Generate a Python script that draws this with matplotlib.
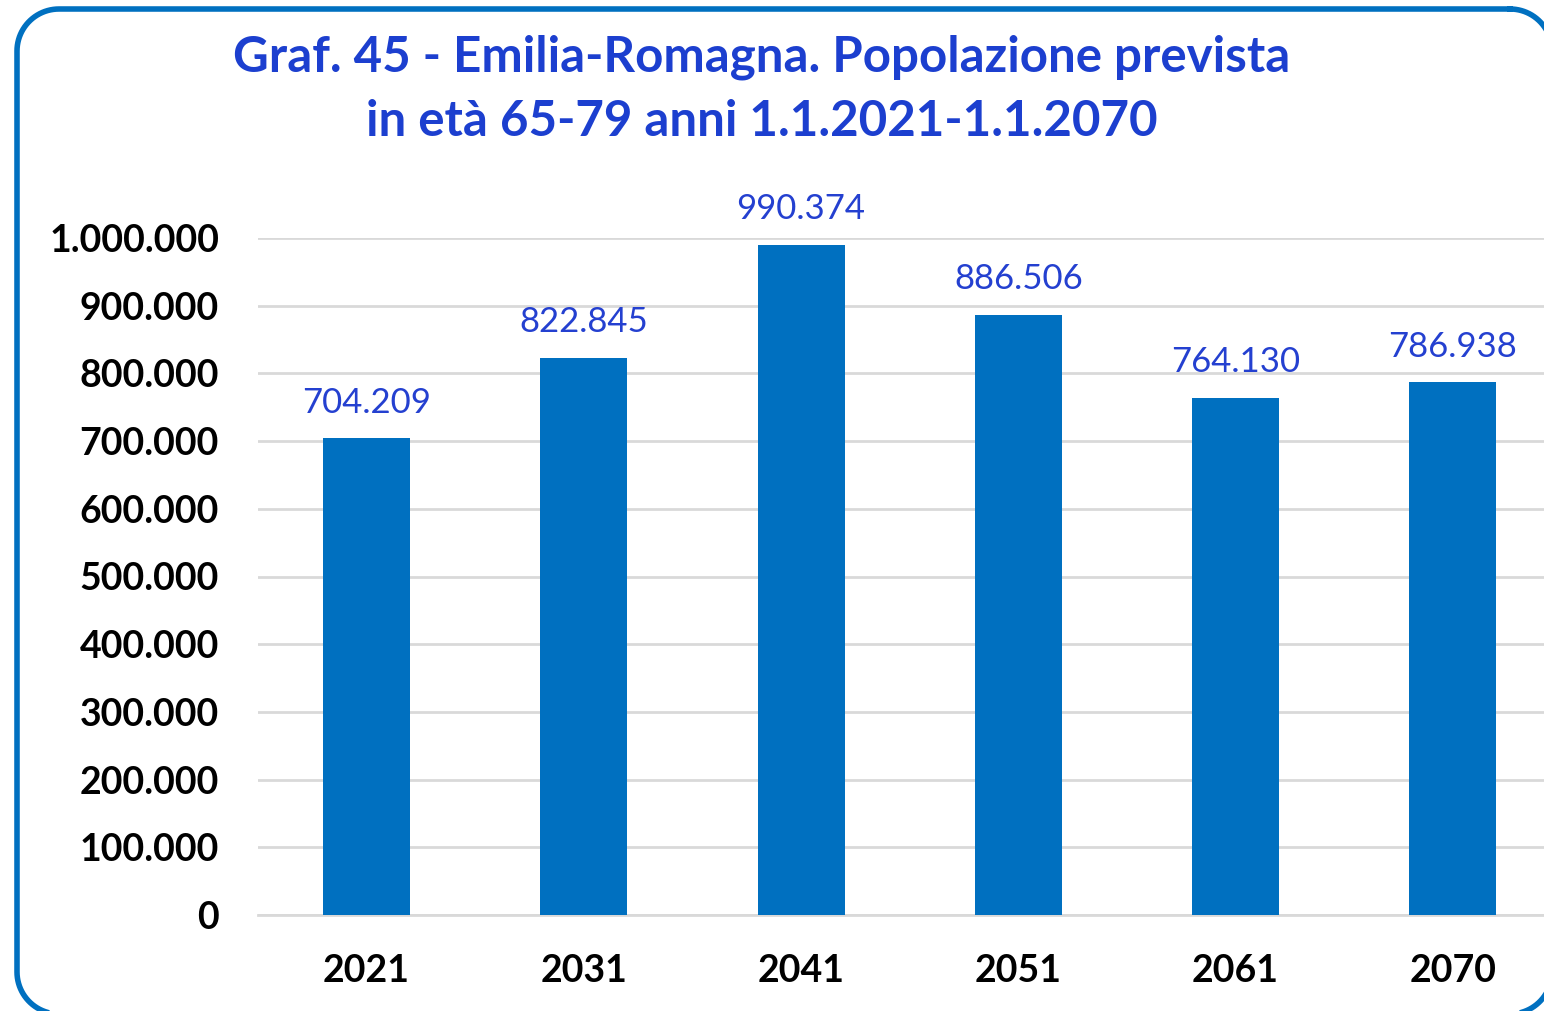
import matplotlib
matplotlib.use("Agg")
import matplotlib.pyplot as plt
import numpy as np

years = ["2021", "2031", "2041", "2051", "2061", "2070"]
popolazione = [704209, 822845, 990374, 886506, 764130, 786938]
y_ticks = [0, 100000, 200000, 300000, 400000, 500000,
           600000, 700000, 800000, 900000, 1000000]

BAR = "#0070C0"
TITLE_BLUE = "#1C3FCF"
LABEL_BLUE = "#2440D0"
GRID = "#D9D9D9"


def it_fmt(v):
    return f"{v:,}".replace(",", ".")


def rounded_outline(x0, y0, x1, y1, r, n=24):
    """Closed polyline of a rounded rectangle (y grows downward)."""
    xs, ys = [], []
    corners = [(x1 - r, y0 + r, -90, 0), (x1 - r, y1 - r, 0, 90),
               (x0 + r, y1 - r, 90, 180), (x0 + r, y0 + r, 180, 270)]
    for cx, cy, a0, a1 in corners:
        t = np.radians(np.linspace(a0, a1, n))
        xs.extend(cx + r * np.cos(t))
        ys.extend(cy + r * np.sin(t))
    xs.append(xs[0]); ys.append(ys[0])
    return xs, ys


plt.rcParams["font.family"] = ["Lato", "DejaVu Sans"]

W, H = 1544, 1011
fig = plt.figure(figsize=(W / 100, H / 100), dpi=100)
fig.patch.set_facecolor("white")

# background axes in pixel units for the rounded frame (cut off right/bottom)
bg = fig.add_axes([0, 0, 1, 1], zorder=-1)
bg.set_xlim(0, W)
bg.set_ylim(H, 0)
bg.axis("off")
fx, fy = rounded_outline(17, 9, 1552, 1014, 42)
bg.plot(fx, fy, color="#0070C0", linewidth=4, solid_joinstyle="round")

fig.text(762 / W, 1 - 57 / H, "Graf. 45 - Emilia-Romagna. Popolazione prevista",
         ha="center", va="center", fontsize=35.5, fontweight="bold", color=TITLE_BLUE)
fig.text(762 / W, 1 - 122 / H, "in età 65-79 anni 1.1.2021-1.1.2070",
         ha="center", va="center", fontsize=35.5, fontweight="bold", color=TITLE_BLUE)

ax = fig.add_axes([258 / W, 96 / H, 1 - 258 / W, 677 / H])
ax.patch.set_alpha(0)
x = list(range(len(years)))
bars = ax.bar(x, popolazione, width=0.4, color=BAR, zorder=3)

ax.set_xlim(-0.5, 5.42)
ax.set_ylim(0, 1000000)
ax.set_yticks(y_ticks)
ax.set_yticklabels([it_fmt(v) for v in y_ticks])
ax.set_xticks(x)
ax.set_xticklabels(years)
ax.grid(axis="y", color=GRID, linewidth=2, zorder=0)
for s in ("top", "right", "left"):
    ax.spines[s].set_visible(False)
ax.spines["bottom"].set_color(GRID)
ax.spines["bottom"].set_linewidth(2)
ax.tick_params(axis="both", length=0, labelsize=27, labelcolor="black")
ax.tick_params(axis="y", pad=28)
ax.tick_params(axis="x", pad=28)
for lab in ax.get_xticklabels() + ax.get_yticklabels():
    lab.set_fontweight("bold")

for b, v in zip(bars, popolazione):
    ax.annotate(it_fmt(v), (b.get_x() + b.get_width() / 2, v),
                xytext=(0, 14), textcoords="offset points",
                ha="center", va="bottom", fontsize=25, color=LABEL_BLUE,
                annotation_clip=False)

fig.savefig("out.png", dpi=100, facecolor="white")
